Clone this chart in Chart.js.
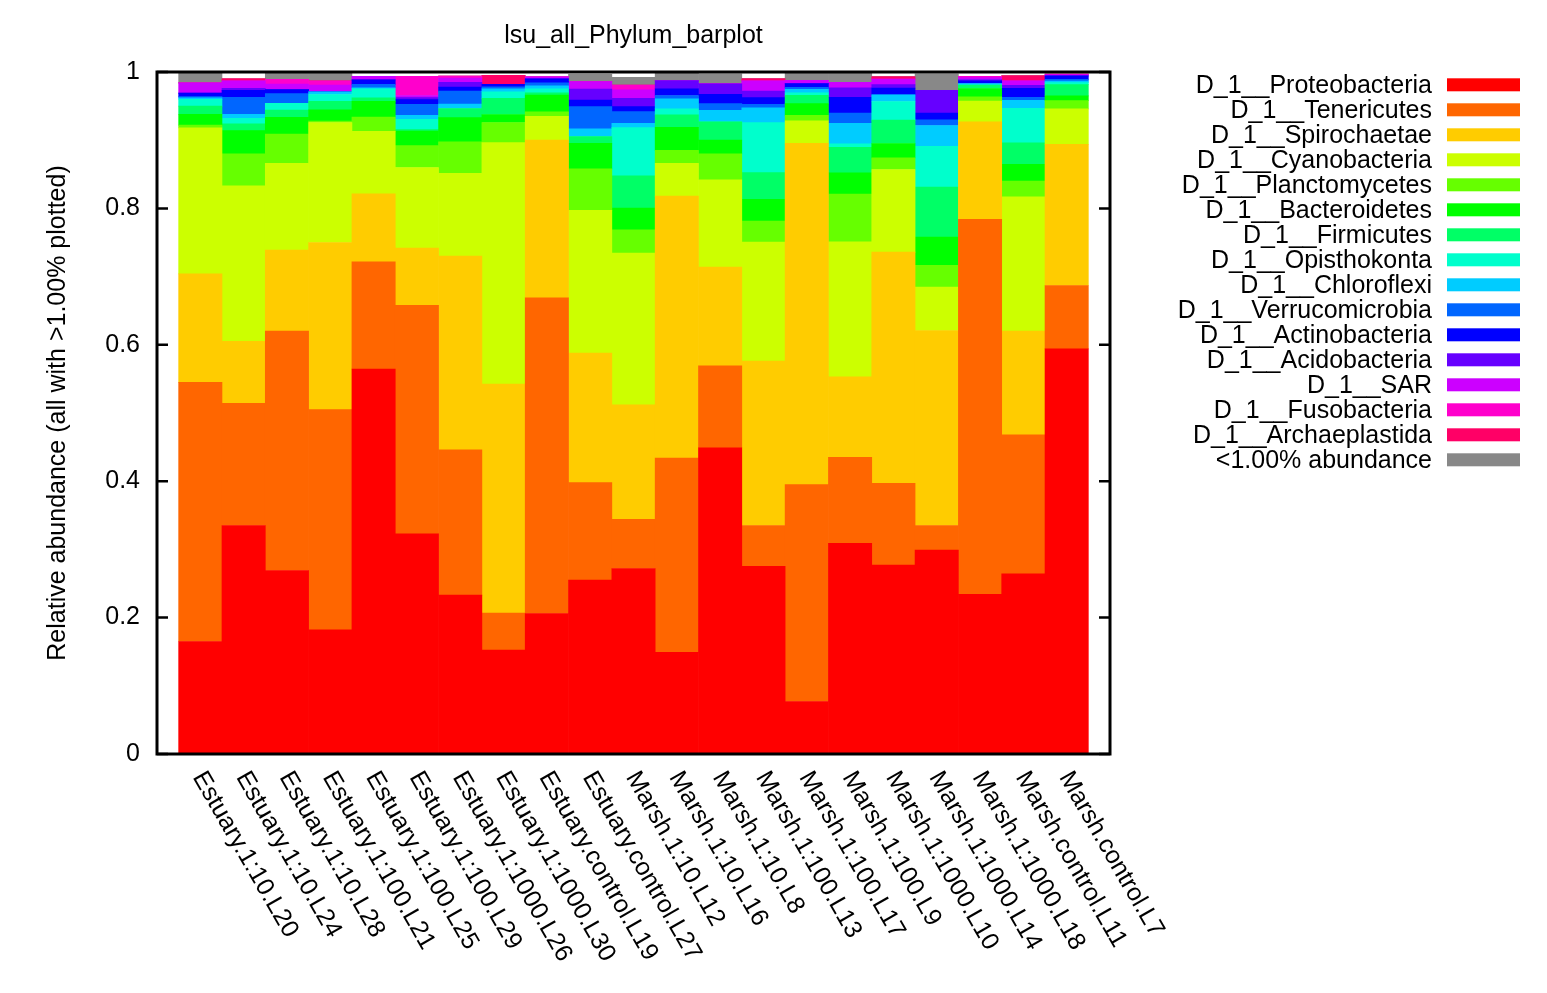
<!DOCTYPE html>
<html>
<head>
<meta charset="utf-8">
<title>lsu_all_Phylum_barplot</title>
<script src="https://cdn.jsdelivr.net/npm/chart.js@4.4.1/dist/chart.umd.min.js"></script>
<style>
  html, body { margin: 0; padding: 0; background: #ffffff; }
  #wrap { position: absolute; left: 0; top: 0; width: 1547px; height: 993px; }
</style>
</head>
<body>
<div id="wrap"><canvas id="c" width="1547" height="993"></canvas></div>
<script>
// ---------- DATA ----------
const chartTitle = "lsu_all_Phylum_barplot";
const yAxisTitle = "Relative abundance (all with >1.00% plotted)";

const sampleLabels = [
  "Estuary.1:10.L20", "Estuary.1:10.L24", "Estuary.1:10.L28",
  "Estuary.1:100.L21", "Estuary.1:100.L25", "Estuary.1:100.L29",
  "Estuary.1:1000.L26", "Estuary.1:1000.L30",
  "Estuary.control.L19", "Estuary.control.L27",
  "Marsh.1:10.L12", "Marsh.1:10.L16", "Marsh.1:10.L8",
  "Marsh.1:100.L13", "Marsh.1:100.L17", "Marsh.1:100.L9",
  "Marsh.1:1000.L10", "Marsh.1:1000.L14", "Marsh.1:1000.L18",
  "Marsh.control.L11", "Marsh.control.L7"
];

const yTickValues = [0, 0.2, 0.4, 0.6, 0.8, 1];
const yTickLabels = ["0", "0.2", "0.4", "0.6", "0.8", "1"];

const phylumNames = [
  "D_1__Proteobacteria", "D_1__Tenericutes", "D_1__Spirochaetae", "D_1__Cyanobacteria",
  "D_1__Planctomycetes", "D_1__Bacteroidetes", "D_1__Firmicutes", "D_1__Opisthokonta",
  "D_1__Chloroflexi", "D_1__Verrucomicrobia", "D_1__Actinobacteria", "D_1__Acidobacteria",
  "D_1__SAR", "D_1__Fusobacteria", "D_1__Archaeplastida", "<1.00% abundance"
];

const proteobacteria  = [0.165, 0.335, 0.269, 0.182, 0.5645, 0.323, 0.233, 0.1525, 0.206, 0.255, 0.272, 0.149, 0.449, 0.275, 0.077, 0.309, 0.277, 0.299, 0.234, 0.264, 0.594];
const tenericutes     = [0.380, 0.179, 0.351, 0.323, 0.157, 0.335, 0.213, 0.054, 0.463, 0.143, 0.072, 0.285, 0.120, 0.060, 0.318, 0.126, 0.120, 0.036, 0.550, 0.204, 0.093];
const spirochaetae    = [0.159, 0.091, 0.119, 0.245, 0.100, 0.084, 0.284, 0.336, 0.231, 0.190, 0.168, 0.384, 0.145, 0.241, 0.5005, 0.118, 0.339, 0.286, 0.143, 0.152, 0.207];
const cyanobacteria   = [0.214, 0.228, 0.127, 0.176, 0.0915, 0.118, 0.1215, 0.354, 0.035, 0.209, 0.2225, 0.048, 0.128, 0.1745, 0.033, 0.198, 0.121, 0.0635, 0.0305, 0.197, 0.052];
const planctomycetes  = [0.004, 0.047, 0.043, 0.002, 0.021, 0.032, 0.046, 0.0295, 0.0066, 0.061, 0.034, 0.019, 0.038, 0.031, 0.008, 0.070, 0.017, 0.032, 0.006, 0.023, 0.012];
const bacteroidetes   = [0.016, 0.034, 0.0245, 0.0165, 0.023, 0.0215, 0.0355, 0.0117, 0.0247, 0.0375, 0.0318, 0.0337, 0.020, 0.0318, 0.0171, 0.0312, 0.0212, 0.0415, 0.0123, 0.0245, 0.0071];
const firmicutes      = [0.012, 0.010, 0.0107, 0.0125, 0.005, 0.002, 0.0135, 0.0236, 0.003, 0.0099, 0.0474, 0.0186, 0.0269, 0.0392, 0.0122, 0.0373, 0.0342, 0.0733, 0.0049, 0.0318, 0.0164];
const opisthokonta    = [0.010, 0.008, 0.010, 0.010, 0.0134, 0.015, 0, 0.0097, 0.006, 0, 0.0708, 0.0088, 0, 0.0733, 0.0037, 0.0051, 0.0274, 0.0597, 0, 0.0503, 0.0029];
const chloroflexi     = [0.002, 0.006, 0, 0.004, 0.0015, 0.006, 0.0065, 0.0043, 0.0045, 0.0112, 0.0063, 0.0147, 0.017, 0.0217, 0.0051, 0.0301, 0.0097, 0.0305, 0.0024, 0.0118, 0.0022];
const verrucomicrobia = [0.002, 0.025, 0.014, 0, 0.005, 0.016, 0.019, 0.003, 0.0045, 0.0326, 0.0172, 0.0048, 0.0098, 0.005, 0.0029, 0.0151, 0, 0.0084, 0, 0.0043, 0.0025];
const actinobacteria  = [0.005, 0.010, 0.006, 0, 0.0066, 0.007, 0.006, 0.0037, 0.0057, 0.0097, 0.0073, 0.0098, 0.0135, 0.010, 0.0054, 0.0231, 0.0098, 0.0099, 0.0041, 0.0132, 0.0053];
const acidobacteria   = [0, 0.003, 0, 0, 0, 0.003, 0.007, 0, 0, 0.0162, 0.0122, 0.0122, 0.0154, 0.0097, 0, 0.014, 0.0052, 0.0333, 0.0018, 0.0045, 0];
const sar             = [0.015, 0.011, 0.008, 0.010, 0.005, 0.003, 0.006, 0, 0.003, 0.0107, 0.0122, 0, 0, 0.0147, 0.0049, 0.0079, 0.008, 0, 0.0027, 0.0068, 0.0015];
const fusobacteria    = [0, 0, 0.007, 0.006, 0, 0.028, 0.003, 0, 0, 0, 0.0073, 0, 0, 0, 0, 0, 0, 0, 0.002, 0, 0.001];
const archaeplastida  = [0, 0.0035, 0, 0, 0, 0, 0, 0.013, 0, 0, 0, 0, 0, 0.0035, 0, 0, 0.0037, 0, 0, 0.0075, 0];
const lowAbundance    = [0.014, 0, 0.009, 0.011, 0, 0, 0, 0, 0, 0.0107, 0.0112, 0.0112, 0.0146, 0, 0.011, 0.0131, 0, 0.0244, 0, 0, 0];

const seriesValues = [
  proteobacteria, tenericutes, spirochaetae, cyanobacteria, planctomycetes, bacteroidetes,
  firmicutes, opisthokonta, chloroflexi, verrucomicrobia, actinobacteria, acidobacteria,
  sar, fusobacteria, archaeplastida, lowAbundance
];

// ---------- STYLE ----------
const phylumColors = [
  "#ff0000", "#ff6600", "#ffcc00", "#ccff00", "#66ff00", "#00ff00", "#00ff66", "#00ffcc",
  "#00ccff", "#0066ff", "#0000ff", "#6600ff", "#cc00ff", "#ff00cc", "#ff0066", "#888888"
];
const FONT_FAMILY = '"Liberation Sans", Arial, Helvetica, sans-serif';
const FONT_SIZE = 25;

const decorPlugin = {
  id: 'decor',
  afterDraw(chart) {
    const ctx = chart.ctx;
    const area = chart.chartArea;
    const xs = chart.scales.x;
    const ys = chart.scales.y;
    ctx.save();
    ctx.font = FONT_SIZE + 'px ' + FONT_FAMILY;
    ctx.fillStyle = '#000';

    // title
    ctx.textAlign = 'center';
    ctx.textBaseline = 'alphabetic';
    ctx.fillText(chartTitle, (area.left + area.right) / 2, 43);

    // y axis title
    ctx.save();
    ctx.translate(65, (area.top + area.bottom) / 2);
    ctx.rotate(-Math.PI / 2);
    ctx.textAlign = 'center';
    ctx.fillText(yAxisTitle, 0, 0);
    ctx.restore();

    // x labels, rotated clockwise
    ctx.textAlign = 'left';
    ctx.textBaseline = 'alphabetic';
    const ang = 60 * Math.PI / 180;
    sampleLabels.forEach((lab, i) => {
      const px = xs.getPixelForValue(i);
      ctx.save();
      ctx.translate(px - 8, area.bottom + 23);
      ctx.rotate(ang);
      ctx.fillText(lab, 0, 0);
      ctx.restore();
    });

    // frame
    ctx.strokeStyle = '#000';
    ctx.lineWidth = 3;
    ctx.strokeRect(area.left, area.top, area.right - area.left, area.bottom - area.top);

    // inward tick marks on y (left & right)
    ctx.lineWidth = 2.5;
    yTickValues.forEach(v => {
      const py = ys.getPixelForValue(v);
      ctx.beginPath();
      ctx.moveTo(area.left, py); ctx.lineTo(area.left + 11, py);
      ctx.moveTo(area.right, py); ctx.lineTo(area.right - 11, py);
      ctx.stroke();
    });

    // legend (right side)
    ctx.textAlign = 'right';
    ctx.textBaseline = 'alphabetic';
    chart.data.datasets.forEach((ds, k) => {
      const rowTop = 78.3 + 25 * k;
      ctx.fillStyle = '#000';
      ctx.fillText(ds.label, 1432, rowTop + 15);
      ctx.fillStyle = ds.backgroundColor;
      ctx.fillRect(1447, rowTop, 73, 13);
    });
    ctx.restore();
  }
};

const datasets = phylumNames.map((name, k) => ({
  label: name,
  data: seriesValues[k].map((v, i) => ({ x: i, y: v })),
  backgroundColor: phylumColors[k],
  borderWidth: 0,
  barPercentage: 1.0,
  categoryPercentage: 1.0
}));

new Chart(document.getElementById('c'), {
  type: 'bar',
  data: { datasets },
  options: {
    responsive: false,
    animation: false,
    devicePixelRatio: 1,
    layout: { padding: { top: 72, right: 437, bottom: 0, left: 0 } },
    plugins: { legend: { display: false }, title: { display: false }, tooltip: { enabled: false } },
    scales: {
      x: {
        type: 'linear', min: -1, max: 21, stacked: true, offset: false,
        grid: { display: false }, border: { display: false },
        ticks: { display: false },
        afterFit: s => { s.height = 239; }
      },
      y: {
        min: 0, max: 1, stacked: true,
        grid: { display: false, drawTicks: false }, border: { display: false },
        afterBuildTicks: s => { s.ticks = yTickValues.map(v => ({ value: v })); },
        ticks: {
          padding: 17, color: '#000',
          font: { family: FONT_FAMILY, size: FONT_SIZE },
          callback: (v) => {
            const idx = yTickValues.findIndex(t => Math.abs(t - v) < 1e-9);
            return idx >= 0 ? yTickLabels[idx] : '';
          }
        },
        afterFit: s => { s.width = 157; }
      }
    }
  },
  plugins: [decorPlugin]
});
</script>
</body>
</html>
